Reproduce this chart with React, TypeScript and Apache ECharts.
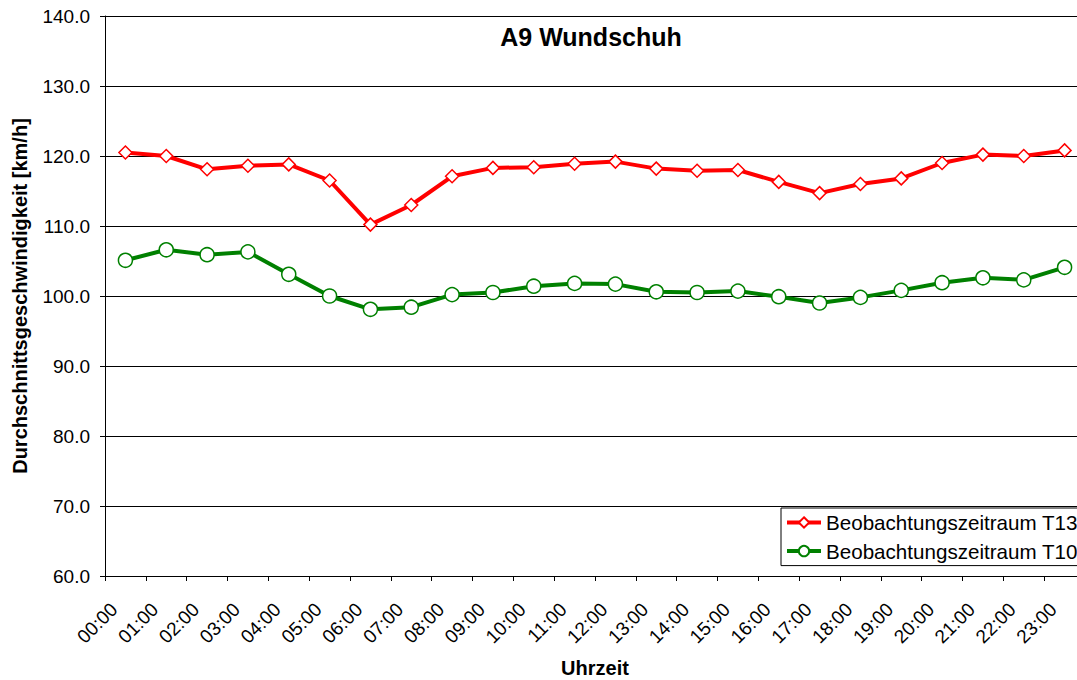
import React, { useEffect, useRef } from "react";
import * as echarts from "echarts";

const categories = [
  "00:00", "01:00", "02:00", "03:00", "04:00", "05:00", "06:00", "07:00",
  "08:00", "09:00", "10:00", "11:00", "12:00", "13:00", "14:00", "15:00",
  "16:00", "17:00", "18:00", "19:00", "20:00", "21:00", "22:00", "23:00",
];

const seriesT130 = [
  120.5, 120.0, 118.1, 118.6, 118.8, 116.5, 110.2, 113.0,
  117.1, 118.3, 118.4, 118.9, 119.2, 118.2, 117.9, 118.0,
  116.3, 114.7, 116.0, 116.8, 119.0, 120.2, 120.0, 120.8,
];

const seriesT100 = [
  105.1, 106.6, 105.9, 106.3, 103.1, 100.0, 98.1, 98.4,
  100.2, 100.5, 101.4, 101.8, 101.7, 100.6, 100.5, 100.7,
  99.9, 99.0, 99.8, 100.8, 101.9, 102.6, 102.3, 104.1,
];

const seriesNames = ["Beobachtungszeitraum T130", "Beobachtungszeitraum T100"];
const titleText = "A9 Wundschuh";
const yAxisName = "Durchschnittsgeschwindigkeit [km/h]";
const xAxisName = "Uhrzeit";
const yMin = 60;
const yMax = 140;
const yStep = 10;

const FONT = "Arial, 'Liberation Sans', Helvetica, sans-serif";

export default function App() {
  const ref = useRef<HTMLDivElement>(null);

  useEffect(() => {
    if (!ref.current) return;
    const chart = echarts.init(ref.current, undefined, { renderer: "svg" });
    chart.setOption({
      animation: false,
      backgroundColor: "#ffffff",
      textStyle: { fontFamily: FONT, color: "#000" },
      graphic: [
        {
          type: "text",
          x: 591,
          y: 37,
          style: {
            text: titleText,
            fontFamily: FONT,
            fontSize: 25,
            fontWeight: "bold",
            fill: "#000",
            textAlign: "center",
            textVerticalAlign: "middle",
          },
        },
      ],
      grid: {
        left: 105,
        top: 16,
        width: 980,
        height: 560,
        containLabel: false,
        outerBoundsMode: "none",
      },
      legend: {
        orient: "vertical",
        left: 781,
        top: 508,
        padding: [4, 6, 4, 4],
        itemWidth: 34,
        itemHeight: 13,
        itemGap: 7.6,
        borderColor: "#000",
        borderWidth: 1,
        borderRadius: 0,
        backgroundColor: "#fff",
        lineStyle: { width: 4 },
        textStyle: { fontFamily: FONT, fontSize: 20.6, color: "#000", lineHeight: 20 },
        data: seriesNames,
      },
      xAxis: {
        type: "category",
        data: categories,
        boundaryGap: true,
        name: xAxisName,
        nameLocation: "middle",
        nameGap: 82,
        nameMoveOverlap: false,
        nameTextStyle: { fontFamily: FONT, fontSize: 20, fontWeight: "bold", color: "#000" },
        axisLine: { show: true, lineStyle: { color: "#000", width: 1 } },
        axisTick: { show: true, alignWithLabel: false, length: 5, lineStyle: { color: "#000" } },
        axisLabel: {
          interval: 0,
          rotate: 45,
          margin: 19,
          padding: [0, 16, 0, 0],
          fontFamily: FONT,
          fontSize: 19,
          color: "#000",
          hideOverlap: false,
        },
        splitLine: { show: false },
      },
      yAxis: {
        type: "value",
        min: yMin,
        max: yMax,
        interval: yStep,
        name: yAxisName,
        nameLocation: "middle",
        nameRotate: 90,
        nameGap: 75,
        nameMoveOverlap: false,
        nameTextStyle: { fontFamily: FONT, fontSize: 20, fontWeight: "bold", color: "#000" },
        axisLine: { show: true, lineStyle: { color: "#000", width: 1 } },
        axisTick: { show: true, length: 5, lineStyle: { color: "#000" } },
        axisLabel: {
          margin: 15,
          fontFamily: FONT,
          fontSize: 19,
          color: "#000",
          formatter: (v: number) => v.toFixed(1),
        },
        splitLine: { show: true, lineStyle: { color: "#000", width: 1 } },
      },
      series: [
        {
          name: seriesNames[0],
          type: "line",
          data: seriesT130,
          symbol: "diamond",
          symbolSize: 13,
          lineStyle: { color: "#ff0000", width: 4 },
          itemStyle: { color: "#ffffff", borderColor: "#ff0000", borderWidth: 1.5 },
          z: 3,
        },
        {
          name: seriesNames[1],
          type: "line",
          data: seriesT100,
          symbol: "circle",
          symbolSize: 14,
          lineStyle: { color: "#008000", width: 4 },
          itemStyle: { color: "#ffffff", borderColor: "#008000", borderWidth: 1.5 },
          z: 3,
        },
      ],
    });
    return () => chart.dispose();
  }, []);

  return (
    <div
      style={{
        position: "fixed",
        left: 0,
        top: 0,
        width: 1077,
        height: 680,
        overflow: "hidden",
        background: "#fff",
      }}
    >
      <div ref={ref} style={{ width: 1100, height: 680 }} />
    </div>
  );
}
